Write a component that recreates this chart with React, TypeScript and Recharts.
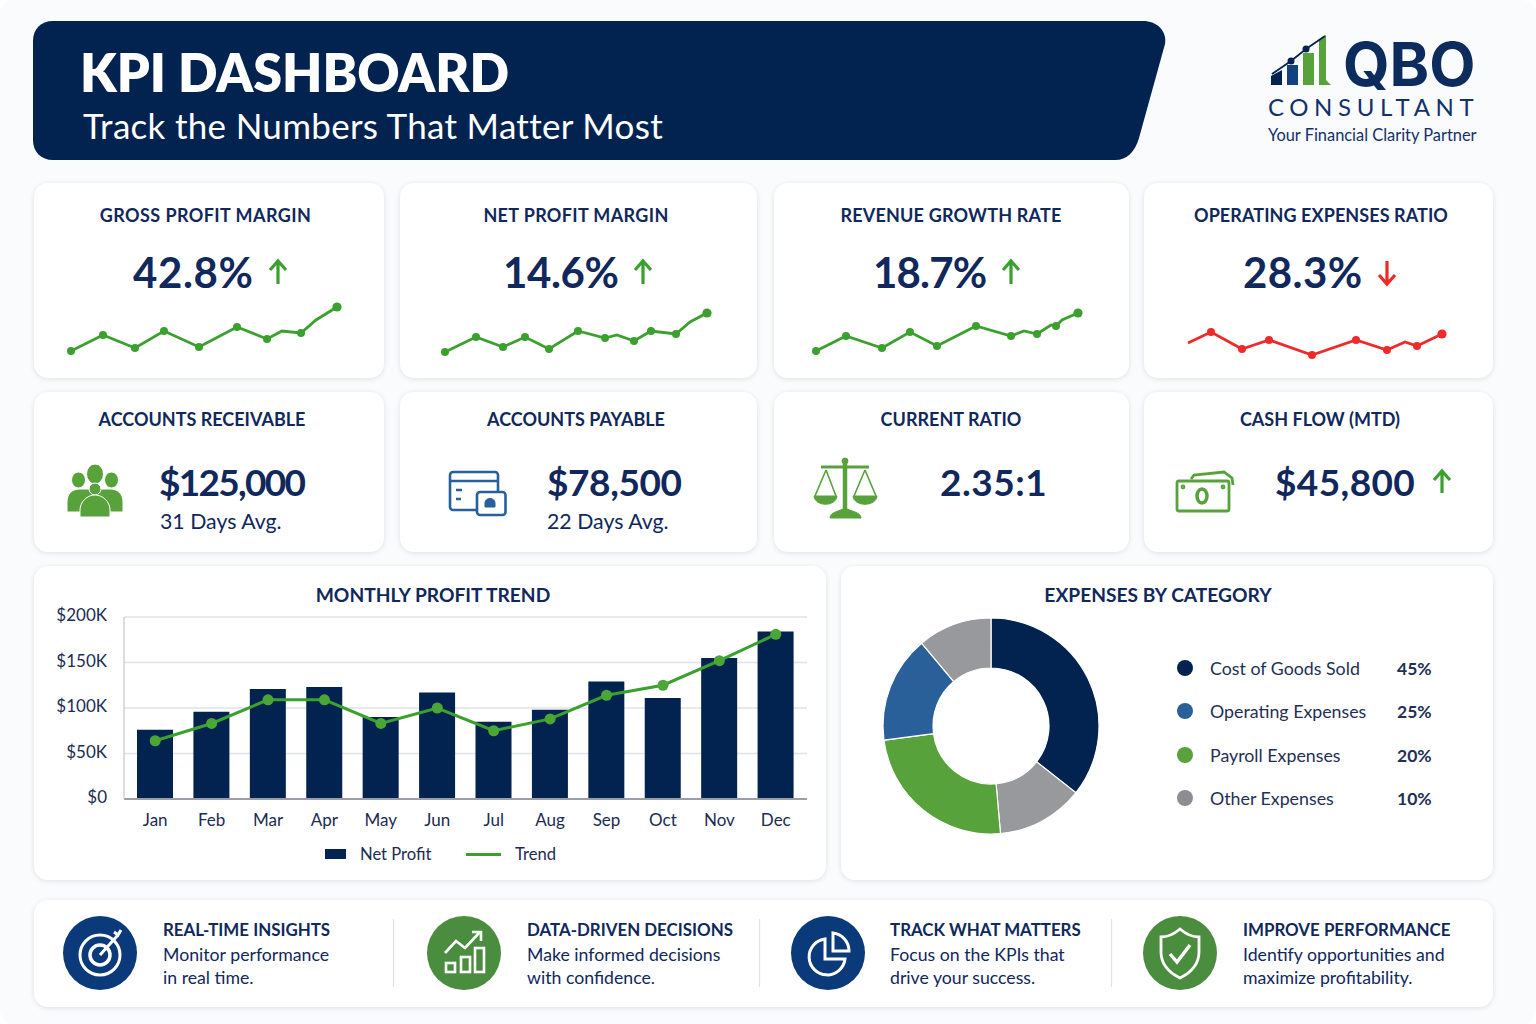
import React from "react";
import {
  Bar,
  CartesianGrid,
  ComposedChart,
  Legend,
  Line,
  LineChart,
  Pie,
  PieChart,
  XAxis,
  YAxis,
} from "recharts";

const NAVY = "#02234f";
const INK = "#10285c";
const BLUE = "#2a6099";
const GREEN = "#3aa02e";
const LEAF = "#58a23c";
const RED = "#ee2a2a";
const GRAY = "#98999d";

const months = ["Jan", "Feb", "Mar", "Apr", "May", "Jun", "Jul", "Aug", "Sep", "Oct", "Nov", "Dec"];
const netProfit = [76, 96, 121, 123, 90, 117, 85, 98, 129, 111, 155, 184];
const trend = [64, 83, 109, 109, 83, 100, 75, 88, 114, 125, 152, 181];
const yTicks = [0, 50, 100, 150, 200];

const sliceNames = ["Cost of Goods Sold", "Other Expenses", "Payroll Expenses", "Operating Expenses", "Other Expenses"];
const sliceValues = [35.6, 13, 24.3, 16, 11.1];
const sliceColors = [NAVY, GRAY, LEAF, BLUE, GRAY];

const legendNames = ["Cost of Goods Sold", "Operating Expenses", "Payroll Expenses", "Other Expenses"];
const legendShares = ["45%", "25%", "20%", "10%"];
const legendColors = [NAVY, BLUE, LEAF, "#8c8d92"];

const grossX = [11, 43, 75, 104, 139, 177, 207, 222, 241, 256, 277];
const grossY = [9, 25, 12, 29, 13, 33, 21, 29, 27, 40, 53];
const grossBare = [7, 9];
const netX = [10, 41, 68, 90, 114, 143, 170, 182, 199, 216, 241, 255, 272];
const netY = [8, 23, 13, 23, 11, 29, 22, 25, 19, 29, 26, 38, 47];
const netBare = [7, 11];
const revenueX = [11, 41, 77, 105, 132, 171, 206, 219, 232, 246, 251, 257, 273];
const revenueY = [9, 24, 12, 28, 14, 34, 24, 29, 26, 35, 34, 40, 47];
const revenueBare = [7, 9, 11];
const opexX = [8, 31, 62, 89, 132, 176, 207, 225, 237, 262];
const opexY = [17, 28, 11, 20, 5, 20, 10, 18, 14, 26];
const opexBare = [0, 7];

const monthlyData = months.map((month, i) => ({ month, net: netProfit[i], trend: trend[i] }));
const sliceData = sliceValues.map((value, i) => ({ name: sliceNames[i], value, fill: sliceColors[i] }));

function T({ x, y, size, weight = 400, color = INK, align = "left", spacing = 0, family, children }: any) {
  const shift = align === "center" ? "-50%" : align === "right" ? "-100%" : "0";
  return (
    <div
      style={{
        position: "absolute",
        left: x,
        top: y,
        transform: `translate(${shift}, -50%)`,
        fontSize: size,
        fontWeight: weight,
        fontFamily: family,
        color,
        letterSpacing: spacing,
        lineHeight: 1,
        whiteSpace: "nowrap",
      }}
    >
      {children}
    </div>
  );
}

function Card({ x, y, w, h }: { x: number; y: number; w: number; h: number }) {
  return (
    <div
      style={{
        position: "absolute",
        left: x,
        top: y,
        width: w,
        height: h,
        background: "#ffffff",
        borderRadius: 14,
        boxShadow: "0 1px 5px rgba(40, 50, 80, 0.13)",
      }}
    />
  );
}

function Arrow({ x, y1, y2, color }: { x: number; y1: number; y2: number; color: string }) {
  const dir = y2 < y1 ? 1 : -1;
  return (
    <svg style={{ position: "absolute", left: 0, top: 0 }} width={1536} height={1024}>
      <path
        d={`M${x} ${y1}L${x} ${y2}M${x - 8} ${y2 + dir * 9}L${x} ${y2}L${x + 8} ${y2 + dir * 9}`}
        stroke={color}
        strokeWidth={3.2}
        fill="none"
      />
    </svg>
  );
}

function Sparkline({ left, xs, ys, bare, color }: { left: number; xs: number[]; ys: number[]; bare: number[]; color: string }) {
  const data = xs.map((x, i) => ({ x, y: ys[i] }));
  return (
    <div style={{ position: "absolute", left, top: 300 }}>
      <LineChart width={300} height={60} data={data} margin={{ top: 0, right: 0, bottom: 0, left: 0 }}>
        <XAxis dataKey="x" type="number" domain={[0, 300]} hide />
        <YAxis type="number" domain={[0, 60]} hide />
        <Line
          dataKey="y"
          type="linear"
          stroke={color}
          strokeWidth={2.8}
          isAnimationActive={false}
          dot={(p: any) =>
            bare.includes(p.index) ? (
              <g key={p.index} />
            ) : (
              <circle key={p.index} cx={p.cx} cy={p.cy} r={p.index === data.length - 1 ? 4.6 : 4} fill={color} />
            )
          }
        />
      </LineChart>
    </div>
  );
}

function MonthlyLegend() {
  return (
    <div style={{ position: "relative", width: 300, height: 24, fontSize: 16.6, color: "#1b2b52" }}>
      <div style={{ position: "absolute", left: 0, top: 7, width: 21, height: 10, background: NAVY }} />
      <div style={{ position: "absolute", left: 35, top: 3, lineHeight: "18px" }}>Net Profit</div>
      <div style={{ position: "absolute", left: 141, top: 11, width: 35, height: 3, background: GREEN }} />
      <div style={{ position: "absolute", left: 190, top: 3, lineHeight: "18px" }}>Trend</div>
    </div>
  );
}

function MonthlyChart() {
  return (
    <div style={{ position: "absolute", left: 34, top: 600 }}>
      <ComposedChart width={790} height={280} data={monthlyData} margin={{ top: 17, right: 17, bottom: 27, left: 0 }}>
        <CartesianGrid vertical={false} stroke="#dfe2e9" strokeWidth={1.5} />
        <XAxis
          dataKey="month"
          padding={{ left: 3, right: 3 }}
          height={30}
          tickLine={false}
          tickSize={0}
          tickMargin={15}
          interval={0}
          axisLine={{ stroke: "#9a9ea8", strokeWidth: 2 }}
          tick={{ fontSize: 17, fill: "#1b2b52" }}
        />
        <YAxis
          width={90}
          domain={[0, 200]}
          ticks={yTicks}
          tickLine={false}
          tickSize={0}
          tickMargin={17}
          axisLine={{ stroke: "#cfd2d9", strokeWidth: 1.5 }}
          tick={{ fontSize: 17, fill: "#1b2b52", dy: -2 }}
          tickFormatter={(v: number) => (v === 0 ? "$0" : `$${v}K`)}
        />
        <Legend content={MonthlyLegend} wrapperStyle={{ position: "absolute", left: 291, top: 242, width: 300, height: 24 }} />
        <Bar dataKey="net" name="Net Profit" fill={NAVY} barSize={36} isAnimationActive={false} />
        <Line
          dataKey="trend"
          name="Trend"
          type="linear"
          stroke={GREEN}
          strokeWidth={3}
          dot={{ r: 5.5, fill: "#4aa737", stroke: "#4aa737", strokeWidth: 0 }}
          isAnimationActive={false}
        />
      </ComposedChart>
    </div>
  );
}

function ExpensesChart() {
  return (
    <div style={{ position: "absolute", left: 871, top: 606 }}>
      <PieChart width={240} height={240} margin={{ top: 0, right: 0, bottom: 0, left: 0 }}>
        <Pie
          data={sliceData}
          dataKey="value"
          cx={120}
          cy={120}
          innerRadius={58}
          outerRadius={108}
          startAngle={90}
          endAngle={-270}
          stroke="#ffffff"
          strokeWidth={1.2}
          isAnimationActive={false}
        />
      </PieChart>
    </div>
  );
}

function Logo() {
  return (
    <>
      <svg style={{ position: "absolute", left: 0, top: 0 }} width={1536} height={1024}>
        <path d="M1271 85V76L1282 70V85Z" fill={NAVY} />
        <rect x="1287" y="65" width="11" height="20" fill="#14417f" />
        <rect x="1303" y="53" width="11" height="32" fill={LEAF} />
        <path d="M1319 40L1326 35V80L1331 85H1319Z" fill={LEAF} />
        <path d="M1272 74L1291 61L1306 49L1325 36" stroke={NAVY} strokeWidth={1.8} fill="none" />
        <circle cx="1291" cy="61" r="3.5" fill={NAVY} />
        <circle cx="1306" cy="49" r="3.5" fill={NAVY} />
      </svg>
      <T x={1343} y={63.5} size={60} weight={700} color="#0c2c5e" family="Inter, sans-serif">QBO</T>
      <T x={1268} y={107} size={24} color="#12306a" spacing={5.6}>CONSULTANT</T>
      <T x={1268} y={135} size={16.4} color="#12306a">Your Financial Clarity Partner</T>
    </>
  );
}

function RowIcons() {
  return (
    <svg style={{ position: "absolute", left: 0, top: 0 }} width={1536} height={1024}>
      <g fill={LEAF} stroke="#ffffff" strokeWidth={1}>
        <ellipse cx="78.5" cy="480" rx="7" ry="8" />
        <ellipse cx="111.5" cy="480" rx="7" ry="8" />
        <ellipse cx="95" cy="474" rx="8.5" ry="10" />
        <path d="M67 512V502C67 494 72 489 80 489H110C118 489 123 494 123 502V512Z" />
        <ellipse cx="95" cy="489" rx="6" ry="6" />
        <path d="M80 517V510C80 502 87 495 95 495C103 495 110 502 110 510V517Z" />
      </g>
      <g fill="none" stroke="#26609f" strokeWidth={2.6}>
        <rect x="450" y="472" width="48" height="38" rx="3" />
        <path d="M450 481H498M456 490H462M456 499H461" />
        <rect x="477" y="492" width="28.5" height="23" rx="3" fill="#ffffff" />
        <path d="M485 507H495V503C495 497 485 497 485 503Z" fill="#26609f" strokeWidth={1} />
      </g>
      <g fill={LEAF} stroke={LEAF}>
        <circle cx="845" cy="461" r="3" />
        <path d="M821 467H869" strokeWidth={3} />
        <path d="M845 461V512" strokeWidth={4.5} />
        <path d="M830 518C830 512 840 511 845 508C850 511 861 512 861 518Z" />
        <path d="M826 470L815 496M826 470L836 496M865 470L854 496M865 470L876 496" strokeWidth={1.6} fill="none" />
        <path d="M814 496H837C836 507 815 507 814 496Z" />
        <path d="M853 496H877C876 507 854 507 853 496Z" />
      </g>
      <g fill="none" stroke={LEAF} strokeWidth={2.8}>
        <rect x="1177" y="481" width="52" height="30" rx="2" />
        <ellipse cx="1202" cy="496" rx="5" ry="7" strokeWidth={3.5} />
        <path d="M1191 479L1194 475L1224 472L1232 478L1233 485" />
        <circle cx="1183" cy="487" r="1" />
        <circle cx="1223" cy="487" r="1" />
      </g>
      <circle cx="100" cy="953" r="37" fill="#0b3a7a" />
      <g fill="none" stroke="#ffffff" strokeWidth={3}>
        <circle cx="100" cy="955" r="20" />
        <circle cx="100" cy="955" r="10" strokeWidth={3.5} />
        <path d="M100 955L118 935M114 932L118 935L121 930" />
      </g>
      <circle cx="464" cy="953" r="37" fill="#4a8d3e" />
      <g fill="none" stroke="#ffffff" strokeWidth={2.6}>
        <rect x="446" y="963" width="9" height="9" />
        <rect x="461" y="957" width="9" height="15" />
        <rect x="475" y="948" width="9" height="24" />
        <path d="M445 953L456 941L465 948L480 932M472 932H481V941" />
      </g>
      <circle cx="828" cy="953" r="37" fill="#0b3a7a" />
      <g fill="none" stroke="#ffffff" strokeWidth={3}>
        <path d="M825 939A18 18 0 1 0 845 959H825Z" />
        <path d="M833 933A18 18 0 0 1 849 951H833Z" />
      </g>
      <circle cx="1180" cy="953" r="37" fill="#4a8d3e" />
      <g fill="none" stroke="#ffffff" strokeWidth={2.8}>
        <path d="M1180 929C1187 935 1193 937 1199 937V952C1199 965 1190 973 1180 978C1170 973 1161 965 1161 952V937C1167 937 1173 935 1180 929Z" />
        <path d="M1170 954L1177 962L1190 945" strokeWidth={3.4} />
      </g>
      <g stroke="#dfe1e6" strokeWidth={1.2}>
        <path d="M393.5 919V987M759.5 919V987M1111.5 919V987" />
      </g>
    </svg>
  );
}

export default function App() {
  return (
    <div
      style={{
        position: "absolute",
        left: 0,
        top: 0,
        width: 1536,
        height: 1024,
        overflow: "hidden",
        background: "#ffffff",
        fontFamily: "Lato, sans-serif",
      }}
    >
      <div style={{ position: "absolute", left: 0, top: 0, width: 1536, height: 1024, background: "#fafbfc", borderRadius: 14 }} />

      <svg style={{ position: "absolute", left: 0, top: 0 }} width={1536} height={1024}>
        <path
          d="M53 21H1143C1158 21 1167 32 1165 44L1139 138C1135 152 1127 160 1115 160H53C41 160 33 152 33 140V41C33 29 41 21 53 21Z"
          fill={NAVY}
        />
      </svg>
      <T x={80} y={72} size={52} weight={800} color="#ffffff">KPI DASHBOARD</T>
      <T x={83} y={124.5} size={35} color="#ffffff" spacing={0.3}>Track the Numbers That Matter Most</T>
      <Logo />

      <Card x={34} y={183} w={350} h={195} />
      <Card x={400} y={183} w={357} h={195} />
      <Card x={774} y={183} w={355} h={195} />
      <Card x={1144} y={183} w={349} h={195} />
      <Card x={34} y={392} w={350} h={160} />
      <Card x={400} y={392} w={357} h={160} />
      <Card x={774} y={392} w={355} h={160} />
      <Card x={1144} y={392} w={349} h={160} />
      <Card x={34} y={566} w={792} h={314} />
      <Card x={841} y={566} w={652} h={314} />
      <Card x={34} y={900} w={1459} h={107} />

      <T x={205.5} y={215} size={18} weight={700} align="center" spacing={0.42}>GROSS PROFIT MARGIN</T>
      <T x={576} y={215} size={18} weight={700} align="center" spacing={0.35}>NET PROFIT MARGIN</T>
      <T x={951} y={215} size={18} weight={700} align="center" spacing={0.2}>REVENUE GROWTH RATE</T>
      <T x={1321} y={215} size={18} weight={700} align="center" spacing={0.08}>OPERATING EXPENSES RATIO</T>

      <T x={133} y={272} size={42} weight={700} spacing={0.6}>42.8%</T>
      <T x={503} y={272} size={42} weight={700} spacing={-0.4}>14.6%</T>
      <T x={873} y={272} size={42} weight={700} spacing={-0.8}>18.7%</T>
      <T x={1243} y={272} size={42} weight={700} spacing={0.4}>28.3%</T>
      <Arrow x={278} y1={284} y2={261} color={GREEN} />
      <Arrow x={643} y1={284} y2={261} color={GREEN} />
      <Arrow x={1011} y1={284} y2={261} color={GREEN} />
      <Arrow x={1387} y1={261} y2={284} color={RED} />

      <Sparkline left={60} xs={grossX} ys={grossY} bare={grossBare} color={GREEN} />
      <Sparkline left={435} xs={netX} ys={netY} bare={netBare} color={GREEN} />
      <Sparkline left={805} xs={revenueX} ys={revenueY} bare={revenueBare} color={GREEN} />
      <Sparkline left={1180} xs={opexX} ys={opexY} bare={opexBare} color={RED} />

      <T x={202} y={419} size={18} weight={700} align="center">ACCOUNTS RECEIVABLE</T>
      <T x={576} y={419} size={18} weight={700} align="center">ACCOUNTS PAYABLE</T>
      <T x={951} y={419} size={18} weight={700} align="center">CURRENT RATIO</T>
      <T x={1320} y={419} size={18} weight={700} align="center">CASH FLOW (MTD)</T>

      <T x={159} y={480.5} size={37} weight={700} spacing={-1.7}>$125,000</T>
      <T x={547} y={480.5} size={37} weight={700} spacing={-0.4}>$78,500</T>
      <T x={940} y={480.5} size={37} weight={700} spacing={0.5}>2.35:1</T>
      <T x={1275} y={480.5} size={37} weight={700} spacing={0.4}>$45,800</T>
      <T x={160} y={522} size={21.3}>31 Days Avg.</T>
      <T x={547} y={522} size={21.3}>22 Days Avg.</T>
      <Arrow x={1442} y1={493} y2={471} color={GREEN} />
      <RowIcons />

      <T x={433} y={595} size={19.2} weight={700} align="center">MONTHLY PROFIT TREND</T>
      <T x={1158} y={595} size={19.2} weight={700} align="center">EXPENSES BY CATEGORY</T>
      <MonthlyChart />
      <ExpensesChart />

      {legendNames.map((name, i) => (
        <React.Fragment key={name}>
          <div
            style={{
              position: "absolute",
              left: 1177,
              top: 660 + i * 43.4,
              width: 16,
              height: 16,
              borderRadius: 8,
              background: legendColors[i],
            }}
          />
          <T x={1210} y={669 + i * 43.4} size={17.8} color="#1f2f55">{name}</T>
          <T x={1397} y={669 + i * 43.4} size={17.5} weight={700} color="#1f2f55">{legendShares[i]}</T>
        </React.Fragment>
      ))}

      <T x={163} y={930} size={16.9} weight={700}>REAL-TIME INSIGHTS</T>
      <T x={163} y={955} size={17.7}>Monitor performance</T>
      <T x={163} y={978} size={17.7}>in real time.</T>
      <T x={527} y={930} size={16.9} weight={700}>DATA-DRIVEN DECISIONS</T>
      <T x={527} y={955} size={17.7}>Make informed decisions</T>
      <T x={527} y={978} size={17.7}>with confidence.</T>
      <T x={890} y={930} size={16.9} weight={700}>TRACK WHAT MATTERS</T>
      <T x={890} y={955} size={17.7}>Focus on the KPIs that</T>
      <T x={890} y={978} size={17.7}>drive your success.</T>
      <T x={1243} y={930} size={16.9} weight={700}>IMPROVE PERFORMANCE</T>
      <T x={1243} y={955} size={17.7}>Identify opportunities and</T>
      <T x={1243} y={978} size={17.7}>maximize profitability.</T>
    </div>
  );
}
